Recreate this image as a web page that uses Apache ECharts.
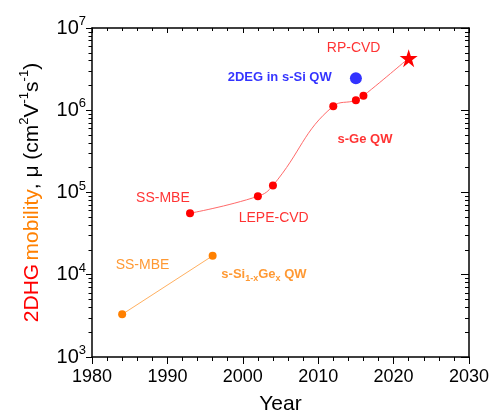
<!DOCTYPE html>
<html>
<head>
<meta charset="utf-8">
<script src="https://cdn.jsdelivr.net/npm/echarts@6/dist/echarts.min.js"></script>
<style>html,body{margin:0;padding:0;background:#fff}#c{width:491px;height:413px}</style>
</head>
<body>
<div id="c"></div>
<script>
// ---- data ----
var ssGeYears = [1993, 2002, 2004, 2012, 2015, 2016, 2022];
var ssGeMobility = [5.6e4, 9.0e4, 1.22e5, 1.12e6, 1.32e6, 1.5e6, 4.3e6];
var sSiGeYears = [1984, 1996];
var sSiGeMobility = [3.3e3, 1.7e4];
var sSiYears = [2015];
var sSiMobility = [2.45e6];
var xTicks = [1980, 1990, 2000, 2010, 2020, 2030];
var yTickExponents = [3, 4, 5, 6, 7];
// annotation texts, anchored in data space (year, mobility)
var annoText = ['SS-MBE', 'LEPE-CVD', 'RP-CVD', '2DEG in s-Si QW', 's-Ge QW', 'SS-MBE', 's-Si{sub|1-x}Ge{sub|x} QW'];
var annoYear = [1989.4, 2004.1, 2014.7, 2004.9, 2016.2, 1986.7, 2002.8];
var annoMob = [8.6e4, 4.9e4, 5.7e6, 2.5e6, 4.45e5, 1.31e4, 1.02e4];
var annoKind = ['red', 'red', 'red', 'blue', 'redBold', 'orange', 'orangeBold'];

var RED = '#ff0000', ORANGE = '#ff8000', BLUE = '#0000ff';
var FONT = '"Liberation Sans", Arial, Helvetica, sans-serif';
var xMin = xTicks[0], xMax = xTicks[xTicks.length - 1];
var yMin = Math.pow(10, yTickExponents[0]), yMax = Math.pow(10, yTickExponents[yTickExponents.length - 1]);

var starPath = 'path://M50,0 L61.8,35.3 L100,35.3 L69.1,57.1 L80.9,92.7 L50,70.6 L19.1,92.7 L30.9,57.1 L0,35.3 L38.2,35.3 Z';

var ssGeData = ssGeYears.map(function (y, i) {
  var d = { value: [y, ssGeMobility[i]] };
  if (i === ssGeYears.length - 1) { d.symbol = starPath; d.symbolSize = 18; }
  return d;
});

var styles = {
  red: { color: RED, fontSize: 14, fontWeight: 'normal' },
  blue: { color: BLUE, fontSize: 13, fontWeight: 'bold' },
  redBold: { color: RED, fontSize: 13, fontWeight: 'bold' },
  orange: { color: ORANGE, fontSize: 14, fontWeight: 'normal' },
  orangeBold: { color: ORANGE, fontSize: 13, fontWeight: 'bold' }
};
var annoData = annoText.map(function (t, i) {
  var s = styles[annoKind[i]];
  return {
    value: [annoYear[i], annoMob[i]],
    label: {
      show: true, position: 'inside', formatter: t,
      color: s.color, fontSize: s.fontSize, fontWeight: s.fontWeight, fontFamily: FONT,
      lineHeight: 18,
      rich: { sub: { color: s.color, fontSize: 9, fontWeight: 'bold', fontFamily: FONT, verticalAlign: 'bottom', lineHeight: 9 } }
    }
  };
});

var chart = echarts.init(document.getElementById('c'), null, { renderer: 'canvas' });
var axisLine = { show: true, lineStyle: { color: '#000', width: 1.5 } };
var tickStyle = { color: '#000', width: 1 };
chart.setOption({
  animation: false,
  backgroundColor: '#fff',
  grid: { left: 92, right: 22, top: 28, bottom: 56, containLabel: false, outerBoundsMode: 'none' },
  xAxis: [{
    type: 'value', min: xMin, max: xMax, interval: 10, position: 'bottom',
    axisLine: axisLine,
    axisTick: { show: true, inside: false, length: 7, lineStyle: tickStyle },
    minorTick: { show: true, splitNumber: 5, length: 4, lineStyle: tickStyle },
    splitLine: { show: false },
    axisLabel: { color: '#000', fontSize: 18, fontFamily: FONT, margin: 11, formatter: function (v) { return String(v); } },
    name: 'Year', nameLocation: 'middle', nameGap: 37,
    nameTextStyle: { color: '#000', fontSize: 21, fontFamily: FONT }
  }, {
    type: 'value', min: xMin, max: xMax, interval: 10, position: 'top',
    axisLine: axisLine,
    axisTick: { show: true, inside: true, length: 5, lineStyle: tickStyle },
    minorTick: { show: true, splitNumber: 5, length: 3, lineStyle: tickStyle },
    splitLine: { show: false }, axisLabel: { show: false }
  }],
  yAxis: [{
    type: 'log', logBase: 10, min: yMin, max: yMax, position: 'left',
    axisLine: axisLine,
    axisTick: { show: true, inside: false, length: 6, lineStyle: tickStyle },
    minorTick: { show: true, splitNumber: 9, length: 3.5, lineStyle: tickStyle },
    splitLine: { show: false },
    axisLabel: {
      margin: 6, color: '#000', fontFamily: FONT,
      formatter: function (v) { return '{b|10}{s|' + Math.round(Math.log10(v)) + '}'; },
      rich: {
        b: { fontSize: 20, lineHeight: 26, color: '#000', fontFamily: FONT },
        s: { fontSize: 13, lineHeight: 13, verticalAlign: 'top', color: '#000', fontFamily: FONT }
      }
    },
    name: '{r|2DHG} {o|mobility}{k|, μ (cm}{p|2}{k|V}{p|-1}{k|s}{p|-1}{k|)}',
    nameLocation: 'middle', nameGap: 46,
    nameTextStyle: {
      fontFamily: FONT,
      rich: {
        r: { color: RED, fontSize: 21, lineHeight: 28, fontFamily: FONT },
        o: { color: ORANGE, fontSize: 21, lineHeight: 28, fontFamily: FONT },
        k: { color: '#000', fontSize: 21, lineHeight: 28, fontFamily: FONT },
        p: { color: '#000', fontSize: 13, lineHeight: 13, verticalAlign: 'top', fontFamily: FONT }
      }
    }
  }, {
    type: 'log', logBase: 10, min: yMin, max: yMax, position: 'right',
    axisLine: axisLine,
    axisTick: { show: true, inside: true, length: 8, lineStyle: tickStyle },
    minorTick: { show: true, splitNumber: 9, length: 4, lineStyle: tickStyle },
    splitLine: { show: false }, axisLabel: { show: false }
  }],
  series: [{
    type: 'line', name: 's-Si1-xGex QW', data: sSiGeYears.map(function (y, i) { return [y, sSiGeMobility[i]]; }),
    symbol: 'circle', symbolSize: 8, itemStyle: { color: ORANGE },
    lineStyle: { color: '#ffb060', width: 1 }, z: 3
  }, {
    type: 'line', name: 's-Ge QW', data: ssGeData, smooth: 0.45,
    symbol: 'circle', symbolSize: 8, itemStyle: { color: RED },
    lineStyle: { color: '#ff6a6a', width: 1 }, z: 3
  }, {
    type: 'scatter', name: '2DEG in s-Si QW', data: sSiYears.map(function (y, i) { return [y, sSiMobility[i]]; }),
    symbol: 'circle', symbolSize: 12, itemStyle: { color: BLUE }, z: 3
  }, {
    type: 'scatter', name: 'annotations', data: annoData, symbolSize: 0, silent: true, z: 4
  }]
});
</script>
</body>
</html>
